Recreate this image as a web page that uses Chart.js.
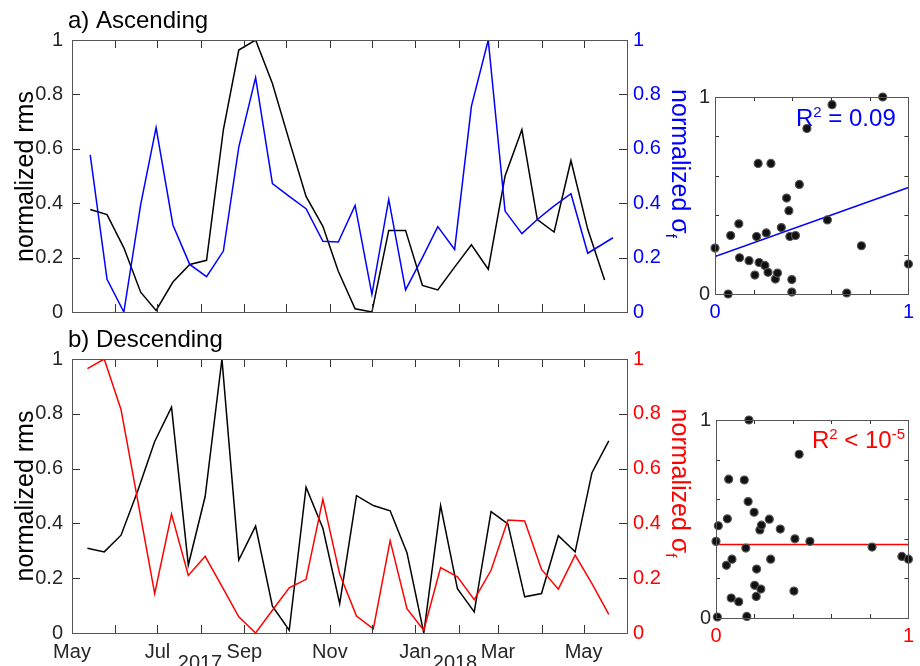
<!DOCTYPE html>
<html>
<head>
<meta charset="utf-8">
<script src="https://cdn.jsdelivr.net/npm/chart.js@4.4.1/dist/chart.umd.min.js"></script>
<style>
  html, body { margin: 0; padding: 0; background: #fff; }
  #page { position: relative; width: 920px; height: 666px; overflow: hidden; }
  .box { position: absolute; }
</style>
</head>
<body>
<div id="page">
  <div class="box" style="left:0;top:0"><canvas id="ascSeries" width="700" height="333"></canvas></div>
  <div class="box" style="left:0;top:313px"><canvas id="desSeries" width="700" height="353"></canvas></div>
  <div class="box" style="left:690px;top:0"><canvas id="ascScatter" width="230" height="333"></canvas></div>
  <div class="box" style="left:690px;top:333px"><canvas id="desScatter" width="230" height="333"></canvas></div>
</div>
<script>
// --- Data ---
const ascDates = [
  "2017-05-14", "2017-05-26", "2017-06-07", "2017-06-19", "2017-06-30", "2017-07-12",
  "2017-07-24", "2017-08-05", "2017-08-17", "2017-08-28", "2017-09-09", "2017-09-21",
  "2017-10-03", "2017-10-15", "2017-10-27", "2017-11-07", "2017-11-19", "2017-12-01",
  "2017-12-13", "2017-12-25", "2018-01-06", "2018-01-17", "2018-01-29", "2018-02-10",
  "2018-02-22", "2018-03-06", "2018-03-18", "2018-03-29", "2018-04-10", "2018-04-22",
  "2018-05-04", "2018-05-16"
];
const ascRms = [
  0.377, 0.358, 0.236, 0.073, 0.006, 0.11, 0.175, 0.19, 0.67, 0.963, 1.0, 0.84,
  0.63, 0.425, 0.315, 0.15, 0.012, 0.0, 0.3, 0.3, 0.098, 0.081, 0.165, 0.247,
  0.157, 0.5, 0.67, 0.34, 0.294, 0.557, 0.304, 0.118
];
const ascSigmaDates = [
  "2017-05-14", "2017-05-26", "2017-06-07", "2017-06-19", "2017-06-30", "2017-07-12",
  "2017-07-24", "2017-08-05", "2017-08-17", "2017-08-28", "2017-09-09", "2017-09-21",
  "2017-10-03", "2017-10-15", "2017-10-27", "2017-11-07", "2017-11-19", "2017-12-01",
  "2017-12-13", "2017-12-25", "2018-01-06", "2018-01-17", "2018-01-29", "2018-02-10",
  "2018-02-22", "2018-03-06", "2018-03-18", "2018-03-29", "2018-04-10", "2018-04-22",
  "2018-05-04", "2018-05-22"
];
const ascSigma = [
  0.578, 0.12, 0.0, 0.395, 0.678, 0.32, 0.175, 0.13, 0.224, 0.606, 0.862, 0.472,
  0.425, 0.38, 0.26, 0.257, 0.392, 0.065, 0.414, 0.081, 0.2, 0.314, 0.23, 0.757,
  1.0, 0.371, 0.288, 0.34, 0.39, 0.435, 0.216, 0.273
];

const desDates = [
  "2017-05-12", "2017-05-24", "2017-06-05", "2017-06-17", "2017-06-29", "2017-07-11",
  "2017-07-23", "2017-08-04", "2017-08-16", "2017-08-28", "2017-09-09", "2017-09-21",
  "2017-10-03", "2017-10-15", "2017-10-27", "2017-11-08", "2017-11-20", "2017-12-02",
  "2017-12-14", "2017-12-26", "2018-01-07", "2018-01-19", "2018-01-31", "2018-02-12",
  "2018-02-24", "2018-03-08", "2018-03-20", "2018-04-01", "2018-04-13", "2018-04-25",
  "2018-05-07", "2018-05-19"
];
const desRms = [
  0.309, 0.296, 0.357, 0.52, 0.699, 0.824, 0.248, 0.498, 1.0, 0.266, 0.39, 0.098,
  0.01, 0.532, 0.382, 0.107, 0.501, 0.465, 0.446, 0.293, 0.0, 0.465, 0.162, 0.077,
  0.443, 0.398, 0.132, 0.144, 0.355, 0.296, 0.585, 0.701
];
const desSigma = [
  0.965, 1.0, 0.815, 0.48, 0.144, 0.434, 0.21, 0.28, 0.17, 0.059, 0.0, 0.083,
  0.165, 0.196, 0.488, 0.215, 0.062, 0.015, 0.337, 0.089, 0.01, 0.239, 0.205, 0.122,
  0.229, 0.412, 0.409, 0.232, 0.16, 0.284, 0.18, 0.068
];

// month ticks on the time axis
const tickDates = [
  "2017-05-01", "2017-06-01", "2017-07-01", "2017-08-01", "2017-09-01", "2017-10-01",
  "2017-11-01", "2017-12-01", "2018-01-01", "2018-02-01", "2018-03-01", "2018-04-01",
  "2018-05-01", "2018-06-01"
];
const tickLabels = ["May", "", "Jul", "", "Sep", "", "Nov", "", "Jan", "", "Mar", "", "May", ""];
const yearLabels = ["2017", "2018"];

// scatter: normalized rms (x) vs normalized sigma_f (y)
const ascScatterX = [
  0, 0.068, 0.081, 0.123, 0.127, 0.176, 0.206, 0.215, 0.223, 0.228, 0.258, 0.265,
  0.274, 0.289, 0.312, 0.323, 0.343, 0.37, 0.382, 0.387, 0.397, 0.397, 0.416, 0.436,
  0.475, 0.581, 0.605, 0.681, 0.757, 0.867, 1.0
];
const ascScatterY = [
  0.233, 0.0, 0.297, 0.356, 0.184, 0.169, 0.096, 0.292, 0.663, 0.16, 0.145, 0.31,
  0.11, 0.663, 0.076, 0.106, 0.337, 0.487, 0.423, 0.292, 0.073, 0.01, 0.297, 0.556,
  0.84, 0.376, 0.961, 0.005, 0.245, 1.0, 0.152
];
const ascFit = [0.19, 0.541]; // fit line at x = 0 and x = 1

const desScatterX = [
  0, 0.007, 0.012, 0.054, 0.059, 0.066, 0.079, 0.083, 0.118, 0.147, 0.155, 0.16,
  0.167, 0.171, 0.198, 0.201, 0.209, 0.211, 0.228, 0.233, 0.236, 0.277, 0.284, 0.334,
  0.405, 0.41, 0.432, 0.488, 0.811, 0.966, 1.0
];
const desScatterY = [
  0.387, 0.005, 0.466, 0.266, 0.501, 0.701, 0.101, 0.297, 0.082, 0.697, 0.353, 0.008,
  0.588, 1.0, 0.534, 0.165, 0.109, 0.247, 0.445, 0.146, 0.469, 0.499, 0.297, 0.449,
  0.136, 0.4, 0.827, 0.387, 0.358, 0.311, 0.297
];
const desFit = [0.371, 0.371];

// --- Helpers ---
const FONT = "'Liberation Sans', Arial, Helvetica, sans-serif";
const BLUE = "#0000ff";
const RED = "#ff0000";
const TICK_TXT = "#262626";
Chart.defaults.font.family = FONT;

const T0 = Date.parse("2017-05-01");
function dayOf(s) {
  return (Date.parse(s) - T0) / 86400000;
}
function toPoints(dates, vals) {
  return dates.map((d, i) => ({ x: dayOf(d), y: vals[i] }));
}
function toXY(xs, ys) {
  return xs.map((x, i) => ({ x, y: ys[i] }));
}
// "1" rather than "1.0"
function plainNum(v) {
  return String(Number(v.toFixed(1)));
}

// draws a run of text pieces (for sub/superscripts), optionally rotated
function drawParts(ctx, parts, x, y, rot, align, color) {
  ctx.save();
  ctx.translate(x, y);
  ctx.rotate(rot || 0);
  ctx.fillStyle = color;
  ctx.textBaseline = "alphabetic";
  ctx.textAlign = "left";
  let total = 0;
  for (const p of parts) {
    ctx.font = p[1] + "px " + FONT;
    total += ctx.measureText(p[0]).width;
  }
  let cx = align === "center" ? -total / 2 : 0;
  for (const p of parts) {
    ctx.font = p[1] + "px " + FONT;
    ctx.fillText(p[0], cx, p[2] || 0);
    cx += ctx.measureText(p[0]).width;
  }
  ctx.restore();
}

// inward tick marks, axes box and free text
const framePlugin = {
  id: "frame",
  afterDraw(chart, args, o) {
    const { ctx, chartArea: a, scales } = chart;
    const L = o.tickLen;
    ctx.save();
    ctx.lineWidth = 1;
    ctx.strokeStyle = "#333";
    ctx.beginPath();
    for (const t of scales.x.ticks) {
      const p = Math.round(scales.x.getPixelForValue(t.value)) + 0.5;
      ctx.moveTo(p, a.bottom);
      ctx.lineTo(p, a.bottom - L);
      ctx.moveTo(p, a.top);
      ctx.lineTo(p, a.top + L);
    }
    for (const t of scales.y.ticks) {
      const p = Math.round(scales.y.getPixelForValue(t.value)) + 0.5;
      ctx.moveTo(a.left, p);
      ctx.lineTo(a.left + L, p);
      if (!scales.y2) {
        ctx.moveTo(a.right, p);
        ctx.lineTo(a.right - L, p);
      }
    }
    if (scales.y2) {
      for (const t of scales.y2.ticks) {
        const p = Math.round(scales.y2.getPixelForValue(t.value)) + 0.5;
        ctx.moveTo(a.right, p);
        ctx.lineTo(a.right - L, p);
      }
    }
    ctx.stroke();
    ctx.strokeStyle = "#555";
    ctx.strokeRect(
      Math.round(a.left) + 0.5,
      Math.round(a.top) + 0.5,
      Math.round(a.right - a.left),
      Math.round(a.bottom - a.top)
    );
    ctx.restore();

    for (const t of o.texts || []) {
      drawParts(ctx, t.parts, t.x, t.y, t.rot, t.align, t.color);
    }
  },
};
Chart.register(framePlugin);

function fixedWidth(w) {
  return (s) => { s.width = w; };
}
function fixedHeight(h) {
  return (s) => { s.height = h; };
}

function seriesChart(id, o) {
  const mid = (o.top + o.bottom) / 2;
  const texts = [
    { parts: [[o.title, 24, 0]], x: 68, y: o.top - 12, align: "left", color: "#000" },
    { parts: [["normalized rms", 25, 0]], x: 33, y: mid, rot: -Math.PI / 2, align: "center", color: "#000" },
    {
      parts: [["normalized \u03c3", 25, 0], ["f", 15, 6]],
      x: 672, y: mid - 13, rot: Math.PI / 2, align: "center", color: o.color,
    },
  ];
  if (o.showX) {
    texts.push({ parts: [[yearLabels[0], 20, 0]], x: 200, y: o.bottom + 36, align: "center", color: TICK_TXT });
    texts.push({ parts: [[yearLabels[1], 20, 0]], x: 455, y: o.bottom + 36, align: "center", color: TICK_TXT });
  }
  return new Chart(document.getElementById(id), {
    type: "scatter",
    data: {
      datasets: [
        {
          data: toPoints(o.sigmaDates, o.sigma),
          yAxisID: "y2",
          showLine: true,
          borderColor: o.color,
          borderWidth: 1.5,
          pointRadius: 0,
          tension: 0,
        },
        {
          data: toPoints(o.rmsDates, o.rms),
          yAxisID: "y",
          showLine: true,
          borderColor: "#000",
          borderWidth: 1.5,
          pointRadius: 0,
          tension: 0,
        },
      ],
    },
    options: {
      responsive: false,
      animation: false,
      devicePixelRatio: 1,
      layout: { padding: { top: o.top, left: 0, right: 0, bottom: 0 } },
      plugins: {
        legend: { display: false },
        tooltip: { enabled: false },
        frame: { tickLen: 8, texts },
      },
      scales: {
        x: {
          type: "linear",
          min: 0,
          max: dayOf(tickDates[tickDates.length - 1]),
          grid: { display: false, drawTicks: false },
          border: { display: false },
          afterBuildTicks: (s) => {
            s.ticks = tickDates.map((d) => ({ value: dayOf(d) }));
          },
          afterFit: fixedHeight(o.height - o.bottom),
          ticks: {
            display: o.showX,
            autoSkip: false,
            maxRotation: 0,
            padding: 7,
            color: TICK_TXT,
            font: { size: 20 },
            callback: (v, i) => tickLabels[i],
          },
        },
        y: {
          position: "left",
          min: 0,
          max: 1,
          grid: { display: false, drawTicks: false },
          border: { display: false },
          afterFit: fixedWidth(72),
          ticks: { stepSize: 0.2, padding: 9, color: TICK_TXT, font: { size: 20 }, callback: plainNum },
        },
        y2: {
          position: "right",
          min: 0,
          max: 1,
          grid: { display: false, drawTicks: false },
          border: { display: false },
          afterFit: fixedWidth(73),
          ticks: { stepSize: 0.2, padding: 6, color: o.color, font: { size: 20 }, callback: plainNum },
        },
      },
    },
  });
}

function scatterChart(id, o) {
  const endLabel = (v) => (Math.abs(v) < 1e-6 || Math.abs(v - 1) < 1e-6 ? String(Math.round(v)) : "");
  return new Chart(document.getElementById(id), {
    type: "scatter",
    data: {
      datasets: [
        {
          data: toXY(o.xs, o.ys),
          pointRadius: 4,
          pointBackgroundColor: "#111",
          pointBorderColor: "#555",
          pointBorderWidth: 1.2,
          clip: false,
        },
        {
          data: [{ x: 0, y: o.fit[0] }, { x: 1, y: o.fit[1] }],
          showLine: true,
          borderColor: o.color,
          borderWidth: 1.5,
          pointRadius: 0,
        },
      ],
    },
    options: {
      responsive: false,
      animation: false,
      devicePixelRatio: 1,
      layout: { padding: { top: o.top, left: 0, right: o.right, bottom: 0 } },
      plugins: {
        legend: { display: false },
        tooltip: { enabled: false },
        frame: { tickLen: 4, texts: [o.label] },
      },
      scales: {
        x: {
          min: 0,
          max: 1,
          grid: { display: false, drawTicks: false },
          border: { display: false },
          afterFit: fixedHeight(333 - o.bottom),
          ticks: {
            stepSize: 0.2,
            autoSkip: false,
            maxRotation: 0,
            padding: 6,
            color: o.color,
            font: { size: 20 },
            callback: endLabel,
          },
        },
        y: {
          min: 0,
          max: 1,
          grid: { display: false, drawTicks: false },
          border: { display: false },
          afterFit: fixedWidth(o.left),
          ticks: { stepSize: 0.2, padding: 5, color: TICK_TXT, font: { size: 20 }, callback: endLabel },
        },
      },
    },
  });
}

seriesChart("ascSeries", {
  title: "a) Ascending",
  color: BLUE,
  height: 333,
  top: 40,
  bottom: 313,
  showX: false,
  rmsDates: ascDates,
  rms: ascRms,
  sigmaDates: ascSigmaDates,
  sigma: ascSigma,
});

seriesChart("desSeries", {
  title: "b) Descending",
  color: RED,
  height: 353,
  top: 46,
  bottom: 320,
  showX: true,
  rmsDates: desDates,
  rms: desRms,
  sigmaDates: desDates,
  sigma: desSigma,
});

scatterChart("ascScatter", {
  color: BLUE,
  top: 97,
  bottom: 294,
  left: 25,
  right: 8,
  xs: ascScatterX,
  ys: ascScatterY,
  fit: ascFit,
  label: {
    parts: [["R", 24, 0], ["2", 15, -9], [" = 0.09", 24, 0]],
    x: 106, y: 126, align: "left", color: BLUE,
  },
});

scatterChart("desScatter", {
  color: RED,
  top: 87,
  bottom: 285,
  left: 26,
  right: 7,
  xs: desScatterX,
  ys: desScatterY,
  fit: desFit,
  label: {
    parts: [["R", 24, 0], ["2", 15, -9], [" < 10", 24, 0], ["-5", 15, -9]],
    x: 122, y: 115, align: "left", color: RED,
  },
});
</script>
</body>
</html>
